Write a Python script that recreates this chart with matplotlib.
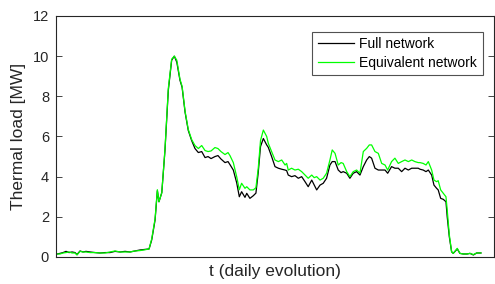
import matplotlib
matplotlib.use("Agg")
import matplotlib.pyplot as plt

# time of day [h]
t = [0.00, 0.17, 0.34, 0.51, 0.68, 0.85, 1.02, 1.13, 1.30, 1.47, 1.64, 1.87, 2.15, 2.43, 2.72,
     3.00, 3.28, 3.57, 3.85, 4.13, 4.42, 4.70, 4.98, 5.21, 5.36, 5.55, 5.68, 5.77, 5.93, 6.11,
     6.30, 6.49, 6.64, 6.78, 6.96, 7.08, 7.25, 7.43, 7.62, 7.81, 8.00, 8.19, 8.38, 8.55, 8.72,
     8.94, 9.11, 9.28, 9.51, 9.68, 9.79, 9.98, 10.17, 10.32, 10.45, 10.64, 10.74, 10.92, 11.11,
     11.26, 11.39, 11.52, 11.68, 11.87, 11.96, 12.15, 12.34, 12.53, 12.72, 12.91, 13.00, 13.09,
     13.28, 13.47, 13.66, 13.85, 14.04, 14.22, 14.42, 14.56, 14.70, 14.89, 15.07, 15.26, 15.45,
     15.58, 15.74, 15.92, 16.08, 16.20, 16.40, 16.58, 16.77, 16.96, 17.15, 17.34, 17.53, 17.68,
     17.81, 18.00, 18.19, 18.38, 18.57, 18.72, 18.94, 19.13, 19.32, 19.51, 19.70, 19.89, 20.08,
     20.26, 20.45, 20.55, 20.73, 20.89, 21.02, 21.21, 21.34, 21.49, 21.58, 21.72, 21.87, 22.02,
     22.09, 22.21, 22.34, 22.43, 22.66, 22.81, 23.00, 23.21, 23.38, 23.57, 23.76, 23.94, 24.00]

full_network = [0.15, 0.18, 0.22, 0.28, 0.22, 0.25, 0.22, 0.12, 0.30, 0.25, 0.28, 0.25, 0.22, 0.20, 0.22,
                0.22, 0.28, 0.25, 0.28, 0.25, 0.30, 0.35, 0.38, 0.40, 0.85, 1.84, 3.30, 2.75, 3.20, 5.30,
                8.30, 9.80, 10.00, 9.70, 8.80, 8.45, 7.20, 6.30, 5.80, 5.40, 5.20, 5.25, 4.95, 5.00, 4.90,
                5.00, 5.05, 4.88, 4.70, 4.75, 4.60, 4.33, 3.70, 3.00, 3.25, 2.97, 3.17, 2.92, 3.05,
                3.18, 4.20, 5.50, 5.90, 5.58, 5.46, 5.00, 4.50, 4.42, 4.37, 4.33, 4.30, 4.08,
                4.00, 4.05, 3.92, 4.00, 3.75, 3.50, 3.83, 3.58, 3.34, 3.58, 3.67, 3.92, 4.58,
                4.75, 4.75, 4.33, 4.20, 4.25, 4.17, 3.92, 4.17, 4.25, 4.08, 4.50, 4.83, 5.00,
                4.92, 4.42, 4.33, 4.33, 4.33, 4.17, 4.50, 4.42, 4.42, 4.25, 4.42, 4.33, 4.42,
                4.42, 4.42, 4.37, 4.33, 4.25, 4.33, 4.08, 3.58, 3.42, 3.34, 2.92, 2.87, 2.75,
                2.00, 1.00, 0.26, 0.18, 0.40, 0.18, 0.15, 0.15, 0.18, 0.10, 0.20, 0.20, 0.20]

equivalent_network = [0.15, 0.15, 0.20, 0.22, 0.25, 0.20, 0.20, 0.10, 0.28, 0.25, 0.25, 0.22, 0.22, 0.20, 0.20,
                      0.25, 0.30, 0.25, 0.25, 0.25, 0.30, 0.32, 0.36, 0.40, 0.90, 1.90, 3.35, 2.75, 3.20, 5.35,
                      8.40, 9.85, 10.00, 9.80, 8.85, 8.50, 7.25, 6.35, 5.85, 5.55, 5.40, 5.55, 5.30, 5.25, 5.28,
                      5.45, 5.40, 5.25, 5.10, 5.20, 5.05, 4.70, 4.00, 3.35, 3.67, 3.42, 3.50, 3.34, 3.34,
                      3.45, 4.40, 5.80, 6.32, 6.00, 5.66, 5.25, 4.83, 4.75, 4.83, 4.58, 4.66, 4.33,
                      4.42, 4.33, 4.37, 4.25, 4.08, 3.92, 4.08, 3.95, 4.00, 3.83, 3.92, 4.17, 4.83,
                      5.33, 5.16, 4.58, 4.70, 4.66, 4.25, 4.00, 4.25, 4.33, 4.17, 5.25, 5.41, 5.58,
                      5.58, 5.25, 5.16, 4.66, 4.58, 4.33, 4.75, 4.92, 4.66, 4.75, 4.83, 4.75, 4.83,
                      4.75, 4.70, 4.70, 4.66, 4.58, 4.75, 4.33, 3.83, 3.75, 3.80, 3.34, 3.17, 3.00,
                      2.34, 1.10, 0.26, 0.18, 0.43, 0.18, 0.15, 0.15, 0.18, 0.12, 0.20, 0.20, 0.20]

y_ticks = [0, 2, 4, 6, 8, 10, 12]
labels = ["Full network", "Equivalent network"]

plt.rcParams['font.family'] = ['Liberation Sans', 'DejaVu Sans']

fig = plt.figure(figsize=(4.95, 2.84), dpi=100)
ax = fig.add_axes([0.1131, 0.0951, 0.8849, 0.8486])

ax.plot(t, full_network, color='black', lw=0.9, label=labels[0])
ax.plot(t, equivalent_network, color='#00ff00', lw=0.9, label=labels[1])

ax.set_xlim(-0.06, 24.74)
ax.set_ylim(0, 12)
ax.set_yticks(y_ticks)
ax.set_xticks([])
ax.tick_params(axis='y', direction='in', length=4, width=0.6, right=True, labelsize=10.5,
               colors='#262626', pad=5)
for s in ax.spines.values():
    s.set_color('#262626')
    s.set_linewidth(0.8)

ax.set_ylabel("Thermal load [MW]", fontsize=12.5, color='#262626', labelpad=5)
ax.set_xlabel("t (daily evolution)", fontsize=12.5, color='#262626', labelpad=5)

leg = ax.legend(loc='upper right', bbox_to_anchor=(0.974, 0.935), fontsize=10, frameon=True,
                fancybox=False, edgecolor='#262626', handlelength=2.6, handletextpad=0.4,
                borderpad=0.4, labelspacing=0.32, borderaxespad=0)
leg.get_frame().set_linewidth(0.8)

fig.savefig("out.png", dpi=100)
